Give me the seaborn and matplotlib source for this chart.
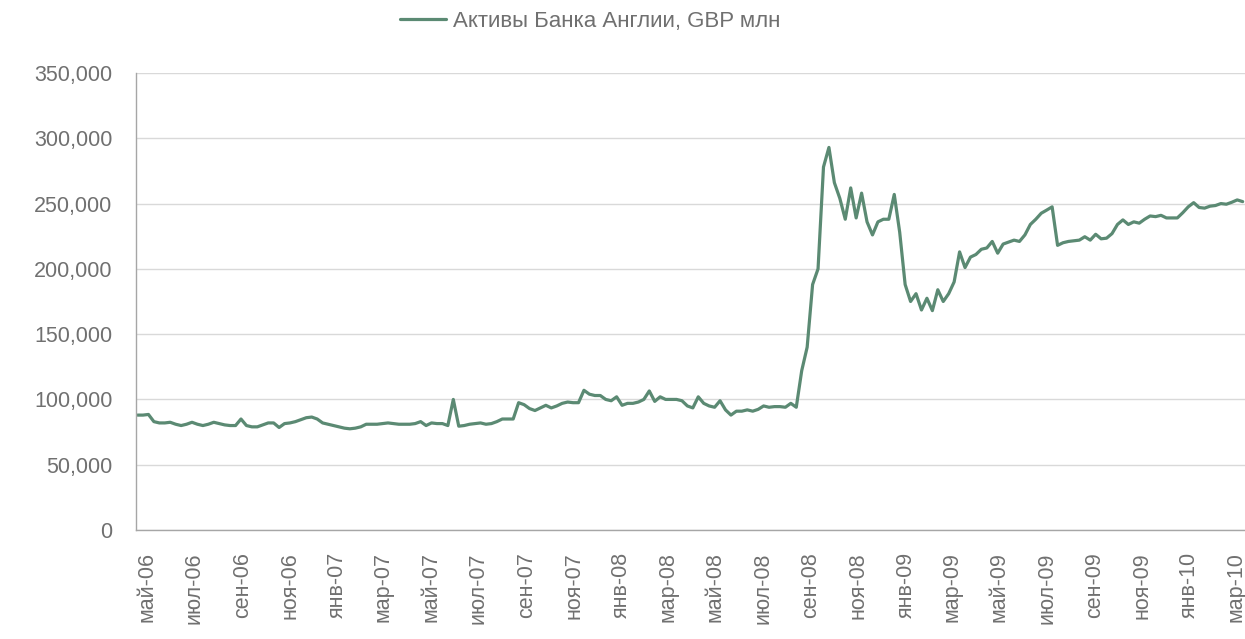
import numpy as np
import pandas as pd
import matplotlib
matplotlib.use("Agg")
import matplotlib.pyplot as plt
from matplotlib.ticker import FuncFormatter
import seaborn as sns

# ---- data ----
series_name = "Активы Банка Англии, GBP млн"
start_date = "2006-04-19"   # weekly (Wednesday) observations
assets_bn = [
    88, 88, 88.5, 83, 82, 82, 82.5, 81, 80, 81,
    82.5, 81, 80, 81, 82.5, 81.5, 80.5, 80, 80, 85,
    80, 79, 79, 80.5, 82, 82, 78.5, 81.5, 82, 83,
    84.5, 86, 86.5, 85, 82, 81, 80, 79, 78, 77.5,
    78, 79, 81, 81, 81, 81.5, 82, 81.5, 81, 81,
    81, 81.5, 83, 80, 82, 81.5, 81.5, 80, 100, 79.5,
    80, 81, 81.5, 82, 81, 81.5, 83, 85, 85, 85,
    97.5, 96, 93, 91.5, 93.5, 95.5, 93.5, 95, 97, 98,
    97.5, 97.5, 107, 104, 103, 103, 100, 99, 102, 95.5,
    97, 97, 98, 100, 106.5, 98.5, 102, 100, 100, 100,
    99, 95, 93.5, 102, 97, 95, 94, 99, 92, 88,
    91, 91, 92, 91, 92.4, 95, 94, 94.5, 94.5, 94,
    97, 94, 122, 140, 188, 200, 278, 293, 266, 254,
    238, 262, 239, 258, 236, 226, 236, 238, 238, 257,
    228, 188, 175, 181, 168.5, 177.5, 168, 184, 175, 181,
    190, 213, 201, 209, 211, 215, 216, 221, 212, 219,
    220.5, 222, 221, 226, 234, 238, 242.6, 245, 247.5, 218,
    220, 221, 221.5, 222, 224.6, 222, 226.5, 223, 223.5, 227,
    234, 237.5, 234, 236, 235, 238, 240.5, 240, 241, 239,
    239, 239, 243, 247.5, 250.7, 247, 246.5, 248, 248.5, 250,
    249.5, 251, 252.8, 251.5,
]
tick_dates = ["2006-05-01", "2006-07-01", "2006-09-01", "2006-11-01",
              "2007-01-01", "2007-03-01", "2007-05-01", "2007-07-01",
              "2007-09-01", "2007-11-01", "2008-01-01", "2008-03-01",
              "2008-05-01", "2008-07-01", "2008-09-01", "2008-11-01",
              "2009-01-01", "2009-03-01", "2009-05-01", "2009-07-01",
              "2009-09-01", "2009-11-01", "2010-01-01", "2010-03-01"]
tick_labels = ["май-06", "июл-06", "сен-06", "ноя-06", "янв-07", "мар-07",
               "май-07", "июл-07", "сен-07", "ноя-07", "янв-08", "мар-08",
               "май-08", "июл-08", "сен-08", "ноя-08", "янв-09", "мар-09",
               "май-09", "июл-09", "сен-09", "ноя-09", "янв-10", "мар-10"]
y_ticks = [0, 50000, 100000, 150000, 200000, 250000, 300000, 350000]

dates = pd.date_range(start_date, periods=len(assets_bn), freq="7D")
df = pd.DataFrame({"date": dates, "value": np.array(assets_bn) * 1000})

# ---- style ----
sns.set_style("white")
plt.rcParams["font.family"] = ["Liberation Sans", "DejaVu Sans"]
text_color = "#707070"
line_color = "#5b8a73"

fig = plt.figure(figsize=(12.45, 6.39), dpi=100)
ax = fig.add_axes([136 / 1245, 1 - 530 / 639, 1 - 136 / 1245, (530 - 73) / 639])

sns.lineplot(data=df, x="date", y="value", ax=ax, color=line_color,
             linewidth=2.3, label=series_name)

ax.set_xlim(dates[0] - pd.Timedelta(days=2), dates[-1] + pd.Timedelta(days=3))
ax.set_ylim(0, 350000)
ax.set_yticks(y_ticks)
ax.yaxis.set_major_formatter(FuncFormatter(lambda v, p: f"{int(v):,}"))
ax.set_xticks(pd.to_datetime(tick_dates))
ax.set_xticklabels(tick_labels, rotation=90)

ax.grid(axis="y", color="#d9d9d9", linewidth=1)
ax.grid(axis="x", visible=False)
ax.set_axisbelow(True)
for s in ["top", "right"]:
    ax.spines[s].set_visible(False)
for s in ["left", "bottom"]:
    ax.spines[s].set_color("#a6a6a6")
    ax.spines[s].set_linewidth(1)

ax.tick_params(axis="y", length=5, color="#a6a6a6", labelsize=15.5,
               labelcolor=text_color, pad=12)
ax.tick_params(axis="x", length=0, labelsize=15.5, labelcolor=text_color, pad=16)
ax.set_xlabel("")
ax.set_ylabel("")

leg = ax.legend(loc="center", bbox_to_anchor=(590 / 1245, 1 - 21 / 639),
                bbox_transform=fig.transFigure, frameon=False,
                fontsize=16, handlelength=2.1, handletextpad=0.3)
for t in leg.get_texts():
    t.set_color(text_color)

fig.savefig("out.png", dpi=100)
